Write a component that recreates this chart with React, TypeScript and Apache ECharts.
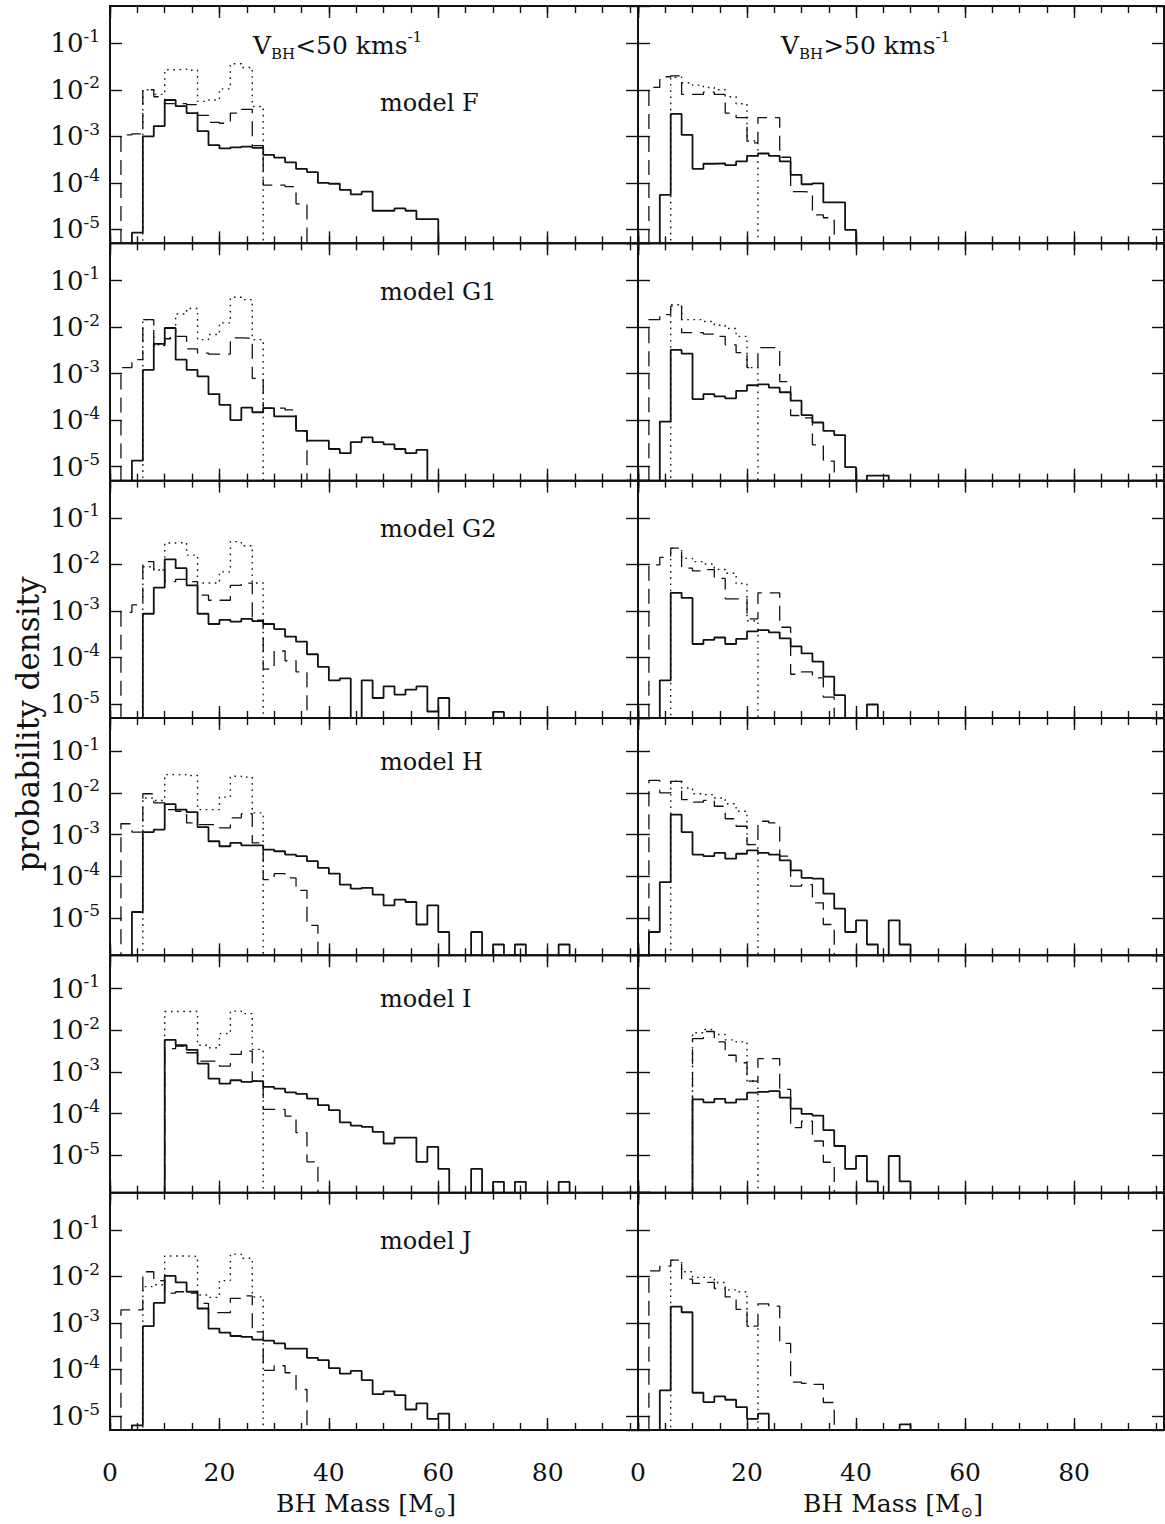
import { useEffect, useRef } from 'react';
import * as echarts from 'echarts';

// ---------- layout constants ----------
const PAGE_W = 1165;
const PAGE_H = 1524;
const ROW_TOP = 6;
const ROW_H = 237.33;
const COL_LEFT = [110, 638];
const COL_W = [528, 526];
const FONT = 'DejaVu Serif';
const INK = '#111';

// ---------- axes ----------
const BIN_WIDTH = 2; // BH mass bin width [Msun]
const X_MAX = 96.5;
const X_LABELS = [0, 20, 40, 60, 80];
const Y_TOP = -0.2; // log10 density at top of each panel
const rowYMin = [-5.3, -5.3, -5.3, -5.9, -5.9, -5.3];

const modelNames = ['model F', 'model G1', 'model G2', 'model H', 'model I', 'model J'];
const modelLabelY = [103, 292, 529, 762, 999, 1241];

// ---------- data: log10(probability density) per 2 Msun bin, first bin = [0,2) ----------
// model F
const fSlowSolid = [null, null, -5.07, -3.0, -2.78, -2.22, -2.35, -2.5, -2.89, -3.19, -3.26, -3.24, -3.22, -3.25, -3.4, -3.46, -3.56, -3.7, -3.77, -4.0, -4.02, -4.15, -4.25, -4.19, -4.6, -4.6, -4.55, -4.6, -4.78, -4.78];
const fSlowDashed = [null, -2.97, -2.95, -2.0, -2.15, -2.3, -2.3, -2.32, -2.55, -2.7, -2.72, -2.5, -2.42, -3.2, -4.05, -4.05, -4.08, -4.45];
const fSlowDotted = [null, null, null, -2.0, -2.1, -1.57, -1.56, -1.58, -2.25, -2.22, -1.98, -1.44, -1.52, -2.36];
const fFastSolid = [null, null, -4.26, -2.52, -2.97, -3.7, -3.59, -3.58, -3.62, -3.54, -3.42, -3.37, -3.42, -3.54, -3.83, -4.03, -4.01, -4.42, -4.42, -5.01];
const fFastDashed = [null, -1.95, -1.72, -1.7, -2.1, -2.1, -2.05, -2.1, -2.5, -2.6, -3.14, -2.6, -2.6, -3.45, -4.19, -4.2, -4.69, -4.75];
const fFastDotted = [null, null, null, -1.73, -1.85, -1.9, -1.95, -2.0, -2.15, -2.3, -3.1];
// model G1
const g1SlowSolid = [null, null, -4.87, -2.92, -2.36, -2.02, -2.7, -2.92, -3.06, -3.44, -3.67, -4.0, -3.73, -3.83, -3.74, -3.92, -3.92, -4.23, -4.44, -4.44, -4.62, -4.71, -4.47, -4.37, -4.47, -4.52, -4.62, -4.71, -4.64];
const g1SlowDashed = [null, -2.87, -2.7, -1.84, -2.4, -2.25, -2.2, -2.47, -2.56, -2.58, -2.58, -2.23, -2.24, -3.1, -3.74, -3.74, -3.78, -4.23];
const g1SlowDotted = [null, null, null, -1.84, -2.38, -2.23, -1.72, -1.6, -2.27, -2.16, -1.91, -1.36, -1.41, -2.27];
const g1FastSolid = [null, null, -4.03, -2.49, -2.57, -3.55, -3.44, -3.49, -3.53, -3.37, -3.25, -3.23, -3.3, -3.4, -3.58, -3.89, -4.05, -4.23, -4.32, -5.01, null, -5.19, -5.19];
const g1FastDashed = [null, -1.84, -1.73, -1.55, -2.12, -2.12, -2.15, -2.2, -2.38, -2.55, -2.87, -2.44, -2.44, -3.17, -3.9, -3.95, -4.53, -4.88];
const g1FastDotted = [null, null, null, -1.52, -1.84, -1.84, -1.88, -1.96, -2.03, -2.2, -2.87];
// model G2
const g2SlowSolid = [null, null, null, -3.06, -2.5, -1.89, -2.08, -2.45, -3.06, -3.28, -3.19, -3.23, -3.17, -3.22, -3.28, -3.39, -3.55, -3.66, -3.93, -4.2, -4.49, -4.45, null, -4.49, -4.87, -4.62, -4.8, -4.69, -4.62, -5.16, -4.87, null, null, null, null, -5.17];
const g2SlowDashed = [null, -3.03, -2.87, -1.94, -2.12, -2.37, -2.32, -2.37, -2.66, -2.77, -2.77, -2.45, -2.4, -3.2, -4.25, -3.86, -4.07, -4.31];
const g2SlowDotted = [null, null, null, -2.05, -2.12, -1.54, -1.53, -1.8, -2.4, -2.4, -2.16, -1.51, -1.6, -2.4];
const g2FastSolid = [null, null, -4.49, -2.61, -2.72, -3.71, -3.62, -3.57, -3.71, -3.6, -3.44, -3.41, -3.46, -3.59, -3.76, -3.91, -4.09, -4.41, -4.81, null, null, -5.01];
const g2FastDashed = [null, -2.01, -1.85, -1.65, -2.08, -2.14, -2.11, -2.3, -2.74, -2.74, -3.17, -2.61, -2.61, -3.35, -4.36, -4.31, -4.44, -4.85];
const g2FastDotted = [null, null, null, -1.65, -1.87, -1.94, -1.99, -2.11, -2.19, -2.41, -3.21];
// model H
const hSlowSolid = [null, null, -4.86, -2.94, -2.88, -2.27, -2.4, -2.46, -2.82, -3.16, -3.28, -3.2, -3.26, -3.26, -3.36, -3.4, -3.48, -3.52, -3.64, -3.8, -3.94, -4.2, -4.3, -4.28, -4.44, -4.7, -4.56, -4.62, -5.16, -4.7, -5.34, null, null, -5.34, null, -5.64, null, -5.64, null, null, null, -5.64];
const hSlowDashed = [null, -2.74, -2.94, -2.02, -2.24, -2.4, -2.44, -2.72, -2.76, -2.76, -2.84, -2.6, -2.5, -3.2, -4.08, -3.94, -4.04, -4.34, -5.18];
const hSlowDotted = [null, null, null, -2.12, -2.18, -1.56, -1.56, -1.58, -2.4, -2.4, -2.1, -1.6, -1.62, -2.48];
const hFastSolid = [null, -5.34, -4.14, -2.52, -2.94, -3.48, -3.52, -3.44, -3.58, -3.46, -3.38, -3.44, -3.48, -3.62, -3.86, -4.04, -4.06, -4.42, -4.78, -5.34, -5.06, -5.64, null, -5.06, -5.64];
const hFastDashed = [null, -1.7, -2.0, -1.72, -2.16, -2.22, -2.18, -2.32, -2.62, -2.8, -3.24, -2.68, -2.72, -3.52, -4.24, -4.2, -4.64, -5.16];
const hFastDotted = [null, null, null, -1.72, -1.88, -2.02, -2.04, -2.12, -2.26, -2.44, -3.24];
// model I
const iSlowSolid = [null, null, null, null, null, -2.23, -2.36, -2.47, -2.8, -3.16, -3.28, -3.2, -3.24, -3.22, -3.36, -3.4, -3.49, -3.53, -3.64, -3.8, -3.92, -4.21, -4.29, -4.32, -4.44, -4.72, -4.58, -4.58, -5.16, -4.8, -5.33, null, null, -5.33, null, -5.64, null, -5.64, null, null, null, -5.64];
const iSlowDashed = [null, null, null, null, null, -2.44, -2.38, -2.54, -2.74, -2.74, -2.86, -2.58, -2.5, -3.22, -3.9, -3.9, -4.06, -4.46, -5.16];
const iSlowDotted = [null, null, null, null, null, -1.55, -1.55, -1.55, -2.36, -2.42, -2.08, -1.54, -1.6, -2.46];
const iFastSolid = [null, null, null, null, null, -3.66, -3.73, -3.65, -3.74, -3.66, -3.5, -3.48, -3.46, -3.62, -3.88, -4.01, -4.05, -4.4, -4.78, -5.33, -5.02, -5.63, null, -5.02, -5.63];
const iFastDashed = [null, null, null, null, null, -2.2, -2.03, -2.28, -2.6, -2.78, -3.22, -2.68, -2.68, -3.42, -4.34, -4.18, -4.66, -5.17];
const iFastDotted = [null, null, null, null, null, -2.06, -1.98, -2.1, -2.23, -2.28, -3.22];
// model J
const jSlowSolid = [null, null, -5.2, -3.07, -2.57, -1.99, -2.13, -2.33, -2.69, -3.12, -3.21, -3.28, -3.3, -3.36, -3.38, -3.44, -3.55, -3.55, -3.75, -3.8, -3.97, -4.09, -4.03, -4.23, -4.53, -4.47, -4.55, -4.86, -4.73, -5.06, -4.95];
const jSlowDashed = [null, -2.72, -2.72, -1.9, -2.09, -2.36, -2.33, -2.36, -2.58, -2.78, -2.78, -2.47, -2.42, -3.19, -4.02, -3.92, -4.07, -4.43];
const jSlowDotted = [null, null, null, -2.22, -2.18, -1.56, -1.56, -1.57, -2.4, -2.45, -2.09, -1.52, -1.61, -2.44];
const jFastSolid = [null, null, -4.45, -2.65, -2.77, -4.5, -4.7, -4.58, -4.65, -4.81, -5.06, -4.95, null, null, null, null, null, null, null, null, null, null, null, null, -5.18];
const jFastDashed = [null, -1.88, -1.78, -1.65, -2.06, -2.15, -2.13, -2.26, -2.44, -2.71, -3.07, -2.59, -2.64, -3.44, -4.27, -4.3, -4.32, -4.71];
const jFastDotted = [null, null, null, -1.65, -1.9, -2.02, -2.02, -2.13, -2.29, -2.33, -3.07];

type Hist = (number | null)[];
const panels: { slow: Hist[]; fast: Hist[] }[] = [
  { slow: [fSlowSolid, fSlowDashed, fSlowDotted], fast: [fFastSolid, fFastDashed, fFastDotted] },
  { slow: [g1SlowSolid, g1SlowDashed, g1SlowDotted], fast: [g1FastSolid, g1FastDashed, g1FastDotted] },
  { slow: [g2SlowSolid, g2SlowDashed, g2SlowDotted], fast: [g2FastSolid, g2FastDashed, g2FastDotted] },
  { slow: [hSlowSolid, hSlowDashed, hSlowDotted], fast: [hFastSolid, hFastDashed, hFastDotted] },
  { slow: [iSlowSolid, iSlowDashed, iSlowDotted], fast: [iFastSolid, iFastDashed, iFastDotted] },
  { slow: [jSlowSolid, jSlowDashed, jSlowDotted], fast: [jFastSolid, jFastDashed, jFastDotted] },
];

const lineStyles = [
  { type: 'solid', width: 1.8 },
  { type: [15, 8], width: 1.3 },
  { type: [1.6, 4.6], width: 1.4 },
];

const FLOOR = -12;
function stepPoints(h: Hist): [number, number][] {
  const pts: [number, number][] = [[0, FLOOR]];
  h.forEach((v, i) => {
    const y = v == null ? FLOOR : v;
    pts.push([i * BIN_WIDTH, y], [(i + 1) * BIN_WIDTH, y]);
  });
  pts.push([h.length * BIN_WIDTH, FLOOR]);
  return pts;
}

function buildOption() {
  const grid: any[] = [];
  const xAxis: any[] = [];
  const yAxis: any[] = [];
  const series: any[] = [];
  const tickStyle = { color: INK, width: 1.4 };

  for (let r = 0; r < 6; r++) {
    for (let c = 0; c < 2; c++) {
      const g = r * 2 + c;
      grid.push({
        left: COL_LEFT[c], top: ROW_TOP + r * ROW_H, width: COL_W[c], height: ROW_H,
        show: true, borderColor: INK, borderWidth: 2, backgroundColor: 'transparent',
      });
      const isBottom = r === 5;
      const xBase = {
        type: 'value', gridIndex: g, min: 0, max: X_MAX,
        axisLine: { show: false, onZero: false }, splitLine: { show: false },
      };
      xAxis.push({
        ...xBase, position: 'bottom', interval: 20,
        axisTick: { show: true, inside: true, length: 12, lineStyle: tickStyle },
        axisLabel: {
          show: isBottom, showMaxLabel: false, margin: 30, color: INK, fontFamily: FONT, fontSize: 25,
          formatter: (v: number) => (X_LABELS.includes(v) ? String(v) : ''),
        },
      });
      xAxis.push({
        ...xBase, position: 'bottom', interval: 5,
        axisTick: { show: true, inside: true, length: 7, lineStyle: tickStyle },
        axisLabel: { show: false },
      });
      xAxis.push({
        ...xBase, position: 'top', interval: 20,
        axisTick: { show: true, inside: true, length: 12, lineStyle: tickStyle },
        axisLabel: { show: false },
      });
      xAxis.push({
        ...xBase, position: 'top', interval: 5,
        axisTick: { show: true, inside: true, length: 7, lineStyle: tickStyle },
        axisLabel: { show: false },
      });
      const yBase = {
        type: 'value', gridIndex: g, min: rowYMin[r], max: Y_TOP, minInterval: 1, maxInterval: 1,
        axisLine: { show: false, onZero: false }, splitLine: { show: false },
        axisTick: { show: true, inside: true, length: 12, lineStyle: tickStyle },
      };
      yAxis.push({
        ...yBase, position: 'left',
        axisLabel: {
          show: c === 0, showMinLabel: false, showMaxLabel: false, margin: 10,
          formatter: (v: number) => {
            const k = Math.round(v);
            return Math.abs(v - k) < 1e-6 ? `{b|10}{s|${k}}` : '';
          },
          rich: {
            b: { fontFamily: FONT, fontSize: 26, color: INK, lineHeight: 32 },
            s: { fontFamily: FONT, fontSize: 17, color: INK, lineHeight: 17, verticalAlign: 'top' },
          },
        },
      });
      yAxis.push({ ...yBase, position: 'right', axisLabel: { show: false } });

      const hists = c === 0 ? panels[r].slow : panels[r].fast;
      hists.forEach((h, k) => {
        series.push({
          type: 'line', xAxisIndex: g * 4, yAxisIndex: g * 2,
          data: stepPoints(h), showSymbol: false, symbol: 'none', clip: true, silent: true,
          lineStyle: { color: INK, width: lineStyles[k].width, type: lineStyles[k].type },
          z: 3,
        });
      });
    }
  }

  const richMain = {
    v: { fontFamily: FONT, fontSize: 25, fill: INK, lineHeight: 32 },
    sub: { fontFamily: FONT, fontSize: 15, fill: INK, lineHeight: 15, verticalAlign: 'bottom' },
    sup: { fontFamily: FONT, fontSize: 15, fill: INK, lineHeight: 15, verticalAlign: 'top' },
  };
  const graphic: any[] = [
    { type: 'text', x: 253, y: 45, style: { text: '{v|V}{sub|BH}{v|<50 kms}{sup|-1}', rich: richMain, align: 'left', verticalAlign: 'middle' } },
    { type: 'text', x: 781, y: 45, style: { text: '{v|V}{sub|BH}{v|>50 kms}{sup|-1}', rich: richMain, align: 'left', verticalAlign: 'middle' } },
    { type: 'text', x: 366, y: 1503, style: { text: '{v|BH Mass [M}{sub|⊙}{v|]}', rich: richMain, align: 'center', verticalAlign: 'middle' } },
    { type: 'text', x: 893, y: 1503, style: { text: '{v|BH Mass [M}{sub|⊙}{v|]}', rich: richMain, align: 'center', verticalAlign: 'middle' } },
    {
      type: 'text', x: 28, y: 724, rotation: Math.PI / 2,
      style: { text: 'probability density', fontFamily: FONT, fontSize: 31, fill: INK, align: 'center', verticalAlign: 'middle' },
    },
  ];
  modelNames.forEach((name, r) => {
    graphic.push({
      type: 'text', x: 380, y: modelLabelY[r],
      style: { text: name, fontFamily: FONT, fontSize: 24, fill: INK, align: 'left', verticalAlign: 'middle' },
    });
  });

  return { animation: false, backgroundColor: '#fff', grid, xAxis, yAxis, series, graphic };
}

export default function App() {
  const ref = useRef<HTMLDivElement>(null);
  useEffect(() => {
    if (!ref.current) return;
    const chart = echarts.init(ref.current, null, { renderer: 'svg' });
    chart.setOption(buildOption() as any);
    return () => chart.dispose();
  }, []);
  return (
    <div
      ref={ref}
      style={{ position: 'absolute', left: 0, top: 0, width: PAGE_W, height: PAGE_H, background: '#fff' }}
    />
  );
}
